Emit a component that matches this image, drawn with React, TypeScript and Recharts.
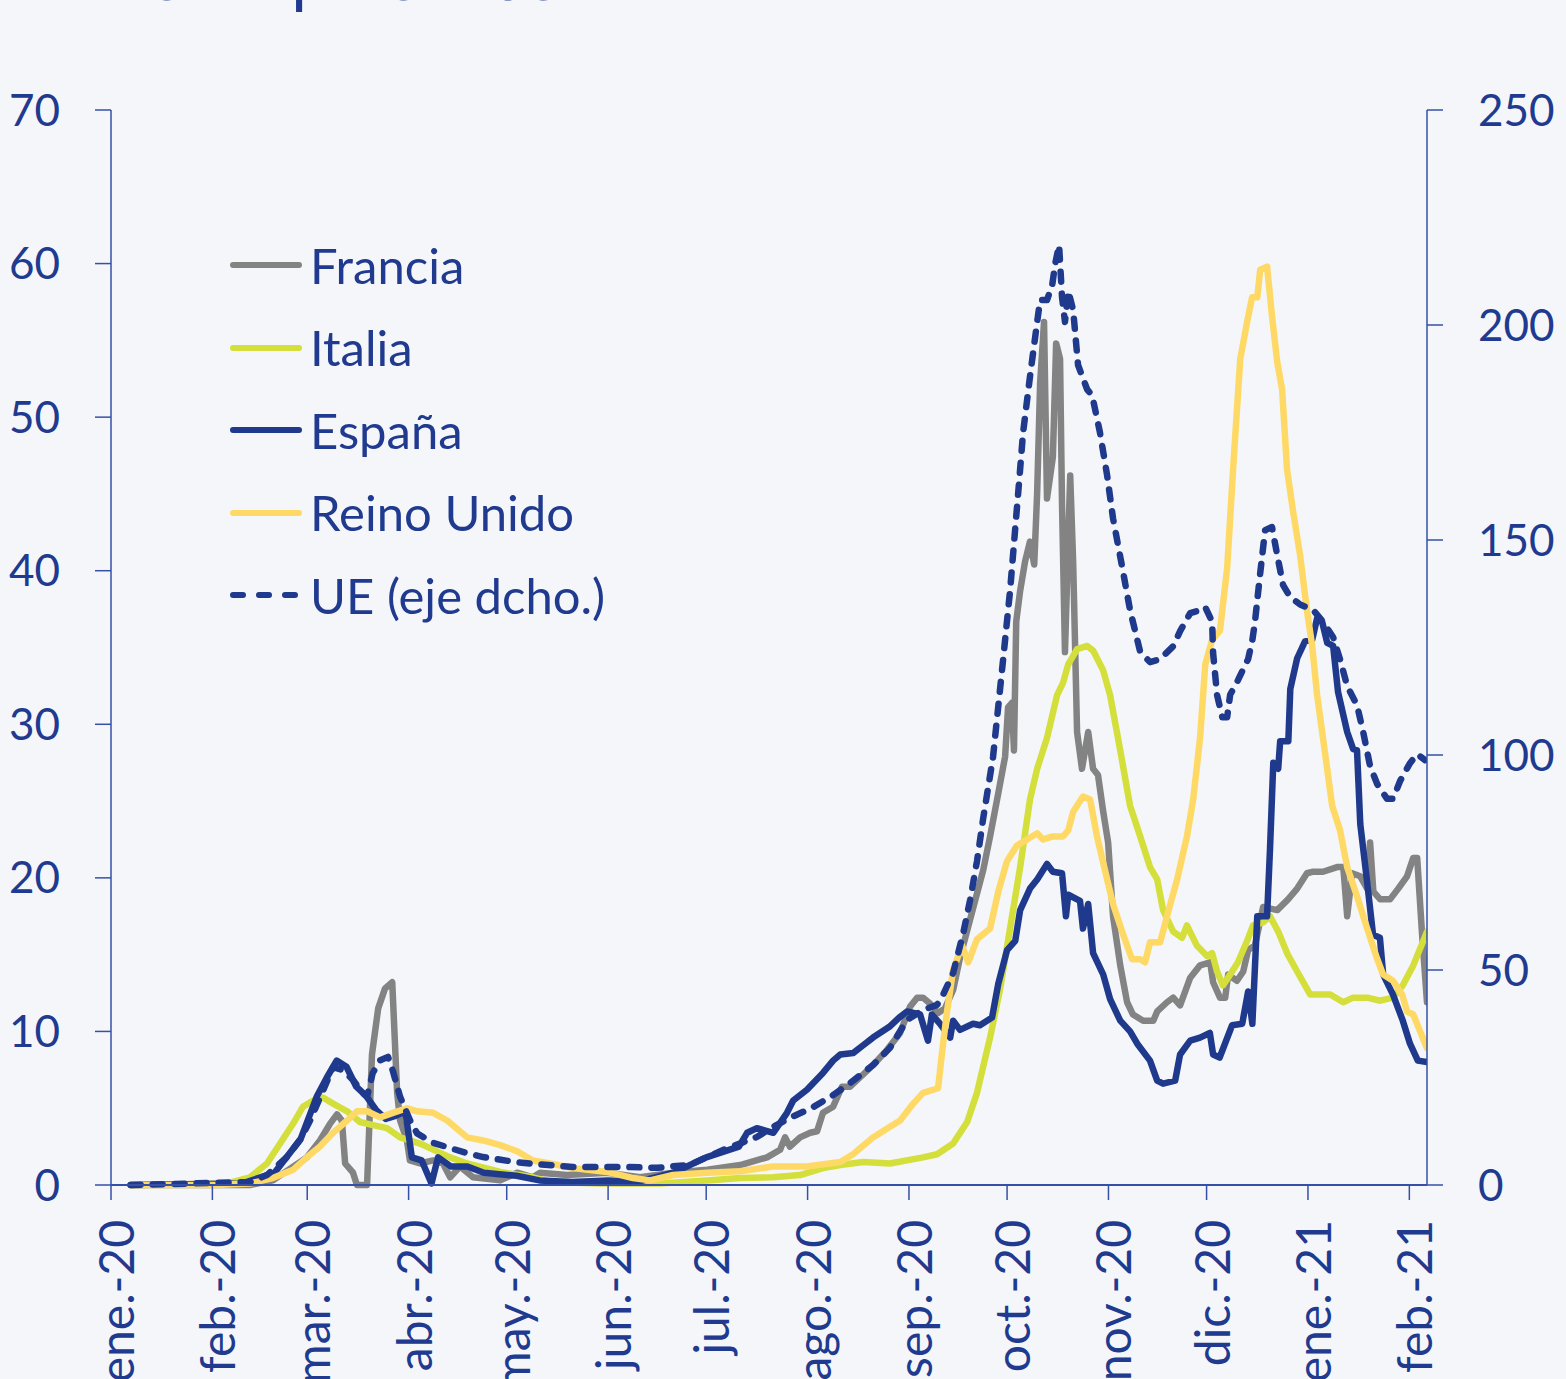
import { LineChart, Line, XAxis, YAxis, Legend } from 'recharts';

// días desde el 1 de enero de 2020
const monthTicks = [0, 31, 60, 91, 121, 152, 182, 213, 244, 274, 305, 335, 366, 397];
const monthLabels = ['ene.-20', 'feb.-20', 'mar.-20', 'abr.-20', 'may.-20', 'jun.-20', 'jul.-20', 'ago.-20', 'sep.-20', 'oct.-20', 'nov.-20', 'dic.-20', 'ene.-21', 'feb.-21'];
const leftTicks = [0, 10, 20, 30, 40, 50, 60, 70];
const rightTicks = [0, 50, 100, 150, 200, 250];

// [día, miles de personas]
const francia = [
  [6, 0], [42.5, 0], [49.5, 0.3], [55.7, 1.2], [59.9, 1.8], [63.9, 2.9], [67, 4.0], [69.1, 4.6], [70.6, 4.2], [71.6, 1.4],
  [74, 0.8], [75.2, 0], [78.3, 0], [79.8, 8.5], [81.7, 11.5], [83.8, 12.8], [86, 13.2], [87.5, 6.0], [88.4, 4.2], [90.5, 2.9],
  [91.4, 1.6], [94.5, 1.4], [98.5, 1.6], [101.5, 1.4], [103.7, 0.5], [106.7, 1.2], [110.7, 0.5], [119, 0.3], [124.2, 0.8], [129, 0.5],
  [131.2, 0.8], [139.4, 0.65], [151.7, 0.8], [161.8, 0.5], [171.9, 0.8], [182.3, 1.0], [192.4, 1.3], [200.6, 1.8], [204.6, 2.3], [206.1, 3.1],
  [207.6, 2.5], [210.7, 3.1], [213.8, 3.4], [215.9, 3.5], [217.7, 4.7], [220.8, 5.1], [223.5, 6.4], [226, 6.4], [229, 7.0], [233, 7.8],
  [237.3, 8.8], [241.3, 9.9], [244.3, 11.6], [246.5, 12.2], [248.3, 12.2], [250.5, 11.8], [252.9, 11.2], [255, 11.5], [257.5, 12.7], [259.6, 14.8],
  [262.7, 17.3], [266.7, 20.5], [268.8, 22.7], [271.3, 25.5], [273.4, 27.9], [274.3, 31.1], [275.5, 31.4], [276.1, 28.3], [276.8, 36.7], [278, 38.7],
  [279.5, 40.6], [281, 41.9], [282.3, 40.4], [283.2, 45.1], [284.1, 52.2], [285.3, 56.2], [286.2, 44.7], [288, 47.4], [289, 54.8], [290.2, 53.8],
  [290.8, 44.3], [291.7, 34.7], [293.3, 46.2], [294.2, 40.6], [295.4, 29.5], [296.9, 27.1], [298.8, 29.5], [300.3, 27.1], [301.8, 26.7], [303.4, 24.3],
  [304.9, 22.3], [306.4, 17.5], [308.6, 14.3], [310.7, 11.9], [312.5, 11.1], [315.6, 10.7], [318.7, 10.7], [319.9, 11.3], [322.9, 11.9], [324.8, 12.2],
  [326.9, 11.7], [330, 13.5], [333, 14.3], [336.1, 14.5], [337, 13.2], [339.1, 12.2], [340.7, 12.2], [341.6, 13.7], [344.3, 13.3], [346.2, 13.9],
  [347.7, 15.3], [349.8, 15.6], [352.3, 18.1], [356.6, 17.9], [359.9, 18.6], [362.7, 19.3], [365.7, 20.3], [367.6, 20.4], [370.6, 20.4], [374.9, 20.7],
  [376.8, 20.7], [378, 17.5], [379.5, 20.3], [382, 20.1], [384.1, 19.3], [385, 22.3], [386, 19.1], [388.1, 18.6], [391.1, 18.6], [393.6, 19.3],
  [396.3, 20.1], [398.2, 21.3], [399.4, 21.3], [400.9, 16.3], [402.4, 11.9],
];

const italia = [
  [6, 0], [35.5, 0.1], [42.5, 0.5], [47.7, 1.4], [51.7, 2.7], [55.7, 4.0], [58.7, 5.1], [61.8, 5.5], [64.8, 5.7], [67.9, 5.3],
  [72.2, 4.8], [76.1, 4.1], [80.1, 3.9], [84.4, 3.7], [88.4, 3.1], [94.5, 2.7], [98.5, 2.3], [103.7, 1.8], [108.9, 1.4], [119, 0.85],
  [129, 0.5], [134.3, 0.2], [149.5, 0.1], [167.9, 0.1], [182.3, 0.3], [192.4, 0.45], [202.4, 0.5], [210.7, 0.65], [217.7, 1.1], [223, 1.3],
  [230, 1.5], [238.2, 1.4], [248.3, 1.8], [252.6, 2.0], [257.5, 2.7], [261.8, 4.1], [264.8, 6.0], [268.8, 9.6], [271.9, 12.8], [274.9, 16.7],
  [278, 20.7], [281, 25.1], [283.2, 27.1], [286.2, 29.1], [289.3, 31.9], [291.1, 32.7], [292.7, 33.9], [295.4, 34.9], [298.5, 35.1], [300.3, 34.8],
  [303.4, 33.5], [305.5, 31.9], [308.6, 28.3], [311.6, 24.7], [314.7, 22.7], [317.7, 20.7], [319.9, 19.9], [321.7, 17.9], [324.8, 16.5], [327.5, 16.1],
  [329, 16.9], [332, 15.6], [335.2, 14.9], [336.7, 15.1], [338.2, 13.9], [340, 13.0], [342.2, 13.7], [344.6, 14.5], [347.4, 15.9], [349.2, 16.9],
  [352.3, 17.1], [354.4, 17.5], [356.9, 16.5], [359.6, 15.1], [362.7, 13.9], [366.7, 12.4], [372.8, 12.4], [376.8, 11.9], [379.8, 12.2], [384.1, 12.2],
  [388.1, 12.0], [392, 12.2], [395, 13.0], [398.2, 14.3], [402.4, 16.5],
];

const espana = [
  [6, 0], [40, 0.1], [50, 0.8], [58, 3.0], [63, 5.8], [66, 7.0], [69, 8.1], [72, 7.7], [75, 6.4], [78, 5.8],
  [81, 4.9], [84, 4.3], [87, 4.5], [90, 4.8], [92, 1.8], [95, 1.6], [98, 0.1], [100, 1.8], [104, 1.2], [109, 1.2],
  [114, 0.8], [124, 0.6], [131, 0.3], [141, 0.2], [152, 0.3], [161, 0.2], [172, 0.8], [182, 1.8], [192, 2.5], [194.5, 3.4],
  [197.5, 3.7], [202.5, 3.4], [206.7, 4.7], [208.6, 5.5], [212.8, 6.2], [217.7, 7.3], [220.8, 8.1], [223, 8.5], [227, 8.6], [230, 9.1],
  [233, 9.6], [238, 10.3], [241, 10.9], [243.4, 11.3], [247.4, 11.1], [249.8, 9.4], [251, 11.1], [253.5, 10.5], [256.6, 9.6], [257.5, 10.7],
  [259.6, 10.1], [263.6, 10.5], [265.7, 10.4], [269.4, 10.9], [271.3, 13.1], [274, 15.3], [276.5, 15.9], [278, 17.9], [281, 19.3], [283.2, 19.9],
  [286.2, 20.9], [288, 20.4], [290.8, 20.3], [292, 17.5], [292.7, 18.9], [296.3, 18.5], [297.2, 16.7], [298.8, 18.3], [300.3, 15.1], [303.4, 13.7],
  [305.5, 12.1], [308.6, 10.7], [311.6, 10.0], [313.8, 9.2], [317.7, 8.1], [319.9, 6.8], [321.7, 6.6], [325.4, 6.8], [326.9, 8.5], [330, 9.4],
  [333, 9.6], [336, 9.9], [337, 8.5], [339, 8.3], [342.8, 10.4], [345.9, 10.5], [347.7, 12.6], [349, 10.5], [350.5, 17.5], [353.5, 17.5],
  [354.4, 21.9], [355.4, 27.5], [356.9, 27.1], [357.5, 28.9], [360, 28.9], [360.6, 32.3], [362.7, 34.3], [365.1, 35.4], [367.3, 35.5], [368.8, 36.9],
  [370.3, 36.7], [371.9, 35.3], [373.7, 35.1], [375.2, 32.1], [378, 29.5], [379.8, 28.4], [381, 28.3], [382, 23.5], [384, 19.9], [385.9, 16.3],
  [388, 16.1], [389, 13.7], [392, 12.4], [395, 10.7], [397.2, 9.2], [399.6, 8.1], [402.4, 8.0],
];

const reinoUnido = [
  [6, 0], [32.4, 0], [42.5, 0.1], [49.5, 0.45], [55.7, 1.0], [59.9, 1.8], [63.9, 2.5], [67.9, 3.4], [72.2, 4.2], [75.2, 4.8],
  [78.3, 4.8], [82.3, 4.4], [86.2, 4.7], [90.5, 5.0], [93.6, 4.8], [98.5, 4.7], [102.8, 4.2], [106.7, 3.5], [108.9, 3.1], [113.8, 2.9],
  [119, 2.6], [124.2, 2.2], [129, 1.6], [134.3, 1.4], [141.3, 1.1], [151.7, 0.85], [159.6, 0.45], [164.8, 0.3], [171.9, 0.65], [182.3, 0.8],
  [192.4, 0.9], [202.4, 1.2], [212.8, 1.2], [223, 1.5], [226.9, 2.0], [233, 3.1], [238.2, 3.8], [241.3, 4.2], [245.3, 5.3], [248.3, 6.0],
  [252.9, 6.3], [254.1, 8.6], [255.7, 11.4], [257.5, 14.0], [260.2, 15.6], [262.1, 14.5], [264.8, 16.0], [268.8, 16.7], [271.3, 19.1], [274, 21.1],
  [277, 22.1], [280.1, 22.5], [283.2, 22.9], [285, 22.5], [288, 22.7], [291.1, 22.7], [292.7, 23.1], [294.2, 24.3], [297.2, 25.3], [299.4, 25.1],
  [301.5, 22.7], [304.6, 19.9], [306.4, 18.3], [309.5, 16.3], [312.2, 14.7], [314.7, 14.7], [316.2, 14.5], [317.7, 15.8], [320.8, 15.8], [322.9, 17.5],
  [326, 19.9], [329, 22.7], [330.9, 25.1], [333, 29.1], [334.6, 33.9], [336.7, 35.5], [339.1, 36.1], [341.3, 40.2], [343.1, 46.6], [345.3, 53.8],
  [347.4, 56.2], [348.9, 57.8], [350.5, 57.8], [351.4, 59.6], [353.5, 59.8], [355, 56.6], [356.6, 53.6], [358.1, 51.8], [359.6, 46.6], [361.5, 43.8],
  [363.6, 41.0], [365.7, 37.4], [367.3, 35.1], [368.8, 31.9], [370.6, 29.1], [373.4, 24.7], [375.8, 23.1], [378, 20.7], [381, 18.8], [384.1, 16.7],
  [387.2, 14.7], [389, 13.7], [392, 13.3], [394.8, 12.4], [396.3, 11.3], [398.2, 11.1], [402.4, 8.9],
];

// eje derecho
const ue = [
  [6, 0], [42.5, 0.7], [47.7, 2.3], [53.8, 6.5], [57.8, 10.5], [60.9, 15], [64, 20.5], [67.9, 27.4], [71, 26.7], [74, 24.4],
  [77, 21.4], [78.3, 20.5], [80, 26], [82.3, 29], [84.7, 29.8], [86.2, 26.5], [88.4, 20.5], [91.4, 15.1], [93.6, 12], [98.5, 9.8],
  [103.7, 8.6], [108.9, 7.4], [113.8, 6.5], [124, 5.3], [131.2, 4.8], [141.3, 4.2], [156.6, 4.2], [167, 4.0], [177, 4.7], [187, 8.1],
  [197.6, 11.2], [202.4, 13.5], [207.6, 15.6], [214.7, 18.1], [220.8, 20.9], [226, 23.7], [233, 27.9], [238.2, 31.9], [243.4, 38.4], [248.3, 40.7],
  [252.6, 41.9], [254.4, 44.2], [257.5, 49.3], [260.6, 58.6], [262.7, 66.3], [264.8, 75.3], [266.7, 85.3], [269.7, 99.5], [272.8, 122.3], [274.9, 138.1],
  [277.4, 161], [278.9, 175], [281, 188], [283.2, 200.7], [284.1, 205.8], [286.2, 205.8], [287.8, 209.3], [288.7, 214.2], [289.9, 218.6], [290.8, 206.5],
  [291.7, 200.7], [292.7, 207.9], [294.2, 203.5], [295.7, 190.7], [298.5, 185], [300, 183.7], [302.4, 175], [304.6, 165], [306.4, 155], [309.2, 143.7],
  [311.6, 133.7], [314.7, 124], [317.7, 121.6], [320.8, 122.3], [324.8, 125.3], [326.9, 128.8], [330, 133], [333, 133.7], [334.6, 134.4], [336.7, 131],
  [337, 123.7], [338.2, 114], [339.8, 108.8], [341.3, 108.8], [342.2, 114], [344.6, 117.4], [347.7, 122.3], [349, 126.7], [349.8, 131], [351.4, 142.3],
  [352.9, 152.3], [355, 153], [356.6, 146.5], [358.4, 139.5], [360.6, 136.7], [363.6, 135], [367.6, 133.7], [370.6, 131], [373.7, 127.4], [375.8, 122.3],
  [378, 116], [381, 111.6], [382.9, 105.3], [385, 97.4], [387.2, 93.2], [390.2, 89.8], [392, 89.8], [394.2, 94], [397.2, 98.1], [399.4, 100.2],
  [401.8, 98.8],
];

const BG = '#f5f6f9';
const INK = '#203a8f';
const AXIS = '#3550a6';
const FONT = 'Lato, "Open Sans", sans-serif';

const series = [
  { name: 'Francia', data: francia, color: '#838383', axis: 'left', dash: undefined, width: 6.5 },
  { name: 'Italia', data: italia, color: '#d4df3c', axis: 'left', dash: undefined, width: 6.5 },
  { name: 'España', data: espana, color: '#1f3a8c', axis: 'left', dash: undefined, width: 6.5 },
  { name: 'Reino Unido', data: reinoUnido, color: '#ffd966', axis: 'left', dash: undefined, width: 6.5 },
  { name: 'UE (eje dcho.)', data: ue, color: '#1f3a8c', axis: 'right', dash: '10 12', width: 6.5 },
];

const toRows = (pts: number[][]) => pts.map(([d, v]) => ({ d, v }));

function MonthTick(props: any) {
  const { x, y, payload } = props;
  const i = monthTicks.indexOf(payload.value);
  return (
    <text
      transform={`translate(${x + 23},${y}) rotate(-90)`}
      textAnchor="end"
      fill={INK}
      fontSize={48}
      fontFamily={FONT}
    >
      {monthLabels[i]}
    </text>
  );
}

function LegendBox() {
  return (
    <div style={{ fontFamily: FONT, fontSize: 49, color: INK }}>
      {series.map((s) => (
        <div key={s.name} style={{ height: 82.5, display: 'flex', alignItems: 'center' }}>
          <svg width={81} height={20} style={{ flex: 'none' }}>
            <line
              x1={4}
              y1={10}
              x2={s.dash ? 66 : 70}
              y2={10}
              stroke={s.color}
              strokeWidth={6}
              strokeLinecap="round"
              strokeDasharray={s.dash ? '10 16' : undefined}
            />
          </svg>
          <span style={{ whiteSpace: 'nowrap', lineHeight: 1 }}>{s.name}</span>
        </div>
      ))}
    </div>
  );
}

export default function App() {
  return (
    <div style={{ position: 'fixed', left: 0, top: 0, width: 1566, height: 1379, background: BG, overflow: 'hidden' }}>
      <svg width={800} height={30} style={{ position: 'absolute', left: 0, top: 0 }}>
        <text x={22} y={-0.5} fill={INK} fontSize={68} fontFamily={FONT}>
          Miles de personas
        </text>
      </svg>
      <LineChart width={1566} height={1379} margin={{ top: 110, right: 0, bottom: 0, left: 11 }}>
        <XAxis
          dataKey="d"
          type="number"
          domain={[0, 402.4]}
          ticks={monthTicks}
          allowDataOverflow
          height={194}
          tickSize={15}
          tickMargin={20}
          axisLine={{ stroke: AXIS, strokeWidth: 2 }}
          tickLine={{ stroke: AXIS, strokeWidth: 1.5 }}
          tick={<MonthTick />}
          interval={0}
        />
        <YAxis
          yAxisId="left"
          domain={[0, 70]}
          ticks={leftTicks}
          width={100}
          tickSize={16}
          tickMargin={35}
          axisLine={{ stroke: AXIS, strokeWidth: 1.5 }}
          tickLine={{ stroke: AXIS, strokeWidth: 1.5 }}
          tick={{ fill: INK, fontSize: 44, fontFamily: FONT }}
          interval={0}
        />
        <YAxis
          yAxisId="right"
          orientation="right"
          domain={[0, 250]}
          ticks={rightTicks}
          width={139}
          tickSize={16}
          tickMargin={35}
          axisLine={{ stroke: AXIS, strokeWidth: 1.5 }}
          tickLine={{ stroke: AXIS, strokeWidth: 1.5 }}
          tick={{ fill: INK, fontSize: 44, fontFamily: FONT }}
          interval={0}
        />
        <Legend
          layout="vertical"
          align="center"
          verticalAlign="middle"
          content={<LegendBox />}
          wrapperStyle={{ left: 229, top: 224, width: 480 }}
        />
        {series.map((s) => (
          <Line
            key={s.name}
            name={s.name}
            data={toRows(s.data)}
            dataKey="v"
            yAxisId={s.axis}
            type="linear"
            stroke={s.color}
            strokeWidth={s.width}
            strokeDasharray={s.dash}
            strokeLinecap="round"
            strokeLinejoin="round"
            dot={false}
            activeDot={false}
            isAnimationActive={false}
          />
        ))}
      </LineChart>
    </div>
  );
}
